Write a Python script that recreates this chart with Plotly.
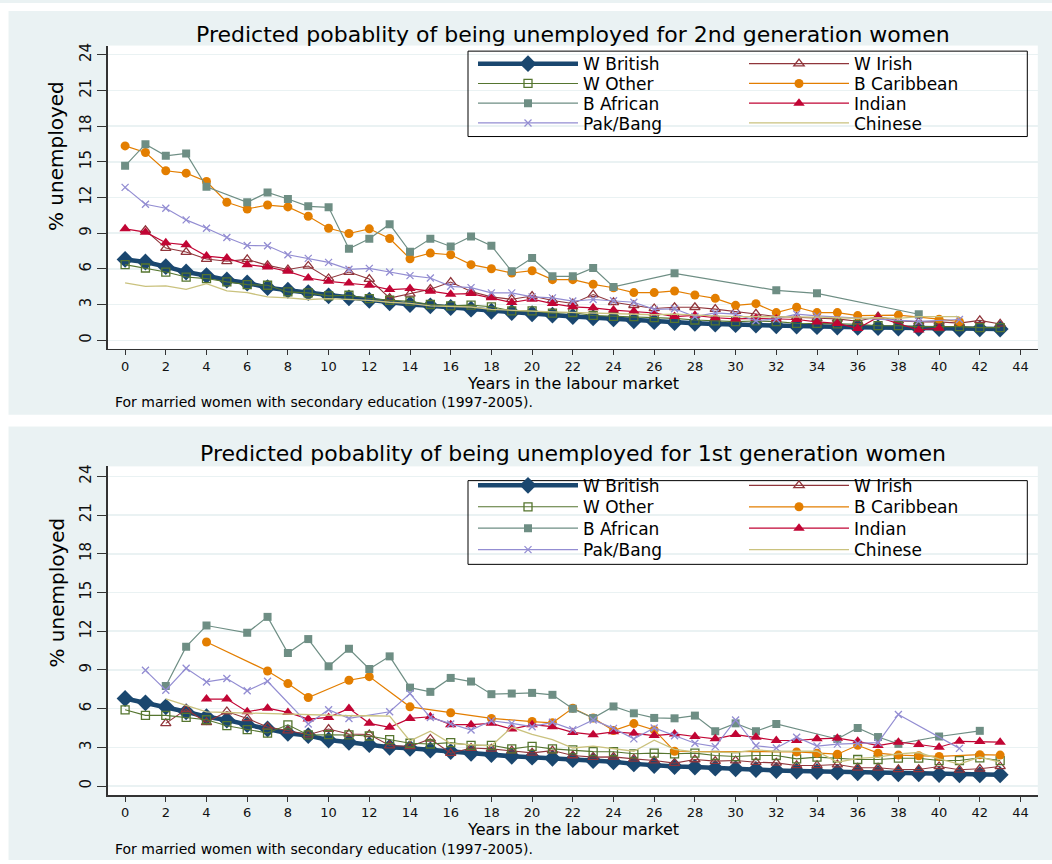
import plotly.graph_objects as go

# ---------------- data ----------------
years = list(range(44))
series_names = ["W British", "W Irish", "W Other", "B Caribbean",
                "B African", "Indian", "Pak/Bang", "Chinese"]
xticks = list(range(0, 45, 2))
yticks = list(range(0, 25, 3))

title_2nd = "Predicted pobablity of being unemployed for 2nd generation women"
title_1st = "Predicted pobablity of being unemployed for 1st generation women"
x_title = "Years in the labour market"
y_title = "% unemployed"
note_text = "For married women with secondary education (1997-2005)."

N = None
# 2nd generation (top panel)
wb2 = [6.8, 6.58, 6.19, 5.74, 5.44, 5.07, 4.82, 4.43, 4.21, 4.01, 3.74, 3.57, 3.37, 3.15, 3.01, 2.9, 2.76, 2.62, 2.45, 2.34,
       2.23, 2.12, 2.0, 1.9, 1.82, 1.65, 1.57, 1.49, 1.43, 1.37, 1.32, 1.29, 1.23, 1.21, 1.15, 1.12, 1.09, 1.07, 1.04, 1.01,
       1.0, 0.95, 0.98, 0.95]
wi2 = [N, 9.25, 7.75, 7.42, 6.83, 6.64, 6.8, 6.3, 5.95, 6.25, 5.2, 5.74, 5.15, 3.55, 3.9, 4.3, 4.9, 4.1, 3.65, 3.45,
       3.72, 3.35, 3.1, 3.85, 3.2, 2.95, 2.68, 2.78, 2.78, 2.62, 2.45, 2.22, 2.0, 1.95, 1.85, 1.8, 1.6, 2.0, 1.65, 1.55,
       1.55, 1.45, 1.68, 1.38]
wo2 = [6.36, 6.08, 5.74, 5.32, 5.19, 4.91, 4.68, 4.63, 4.07, 3.99, 3.74, 3.79, 3.51, 3.37, 3.29, 3.01, 2.9, 2.96, 2.82, 2.48,
       2.48, 2.29, 2.34, 2.09, 2.02, 1.99, 1.91, 1.85, 1.71, 1.63, 1.57, 1.63, 1.57, 1.43, 1.43, 1.38, 1.35, 1.23, 1.23, 1.15,
       1.15, 1.15, 1.07, 1.07]
bc2 = [16.34, 15.78, 14.25, 14.05, 13.35, 11.6, 11.04, 11.37, 11.21, 10.43, 9.42, 8.98, 9.37, 8.56, 6.86, 7.33, 7.19, 6.36, 6.02, 5.66,
       5.85, 5.1, 5.1, 4.71, 4.42, 4.01, 4.01, 4.15, 3.81, 3.53, 2.94, 3.08, 2.33, 2.78, 2.33, 2.33, 2.08, N, 2.12, N,
       1.78, 1.57, N, N]
ba2 = [14.66, 16.48, 15.5, 15.7, 12.9, N, 11.6, 12.43, 11.88, 11.26, 11.18, 7.69, 8.53, 9.76, 7.44, 8.53, 7.89, 8.73, 7.95, 5.8,
       6.91, 5.38, 5.38, 6.08, 4.49, N, N, 5.63, N, N, N, N, 4.2, N, 3.95, N, N, N, N, 2.19,
       N, N, N, N]
in2 = [9.37, 9.09, 8.2, 8.03, 7.08, 6.91, 6.36, 6.16, 5.8, 5.24, 4.96, 4.82, 4.63, 4.27, 4.35, 4.13, 3.88, 3.93, 3.57, 3.18,
       3.46, 3.09, 2.82, 2.73, 2.54, 2.45, 2.3, 2.0, 2.1, 1.9, 1.8, 1.85, 1.8, 1.75, 1.55, 1.42, 1.0, 1.95, N, 0.87,
       1.02, N, N, N]
pb2 = [12.85, 11.43, 11.1, 10.12, 9.42, 8.64, 7.97, 7.95, 7.19, 6.89, 6.55, 5.97, 6.05, 5.74, 5.44, 5.24, 4.54, 4.43, 3.99, 3.99,
       3.65, 3.57, 3.3, 3.43, 3.33, 3.2, 2.6, 2.65, 2.0, 2.3, 2.2, 1.65, 1.8, 2.2, 2.05, N, N, N, N, 1.6,
       N, 1.75, N, N]
ch2 = [4.82, 4.54, 4.57, 4.29, 4.77, 4.15, 4.01, 3.65, 3.57, 3.43, 3.51, 3.43, 3.35, 3.2, 3.1, 2.9, 2.85, 2.8, 2.6, 2.5,
       2.45, 2.4, 2.35, 2.3, 2.25, 2.2, 2.15, 2.2, 2.1, 2.05, 2.0, 2.0, 1.95, 2.0, 1.95, 1.9, 1.85, 1.9, 1.85, 2.0,
       2.0, 2.0, N, N]

# 1st generation (bottom panel)
wb1 = [6.79, 6.45, 6.14, 5.76, 5.37, 5.12, 4.76, 4.42, 4.09, 3.91, 3.57, 3.39, 3.21, 3.01, 2.93, 2.8, 2.67, 2.54, 2.44, 2.31,
       2.24, 2.16, 2.06, 1.98, 1.88, 1.72, 1.6, 1.52, 1.47, 1.39, 1.34, 1.29, 1.21, 1.16, 1.13, 1.08, 1.03, 1.0, 0.95, 0.95,
       0.9, 0.88, 0.88, 0.88]
wi1 = [N, N, 4.86, 5.94, 4.94, 5.78, 5.24, 4.58, 4.3, 3.98, 4.42, 4.04, 4.0, 3.14, 3.07, 3.65, 2.55, 2.95, 2.88, 2.75,
       2.57, 2.75, 2.37, 2.24, 2.26, 2.11, 1.98, 1.78, 2.06, 1.93, 1.98, 1.85, 1.8, 1.6, 1.6, 1.67, 1.42, 1.42, 1.29, 1.29,
       1.52, 1.26, 1.34, 1.52]
wo1 = [5.91, 5.48, 5.48, 5.32, 5.14, 4.68, 4.37, 4.11, 4.75, 3.96, 3.98, 3.96, 3.88, 3.6, 3.32, 3.26, 3.37, 3.16, 3.16, 2.88,
       3.08, 2.88, 2.8, 2.67, 2.66, 2.5, 2.55, 2.5, 2.55, 2.37, 2.29, 2.37, 2.37, 2.11, 2.24, 2.16, 2.06, 2.06, 2.16, 2.16,
       1.98, 1.98, 2.19, 1.98]
bc1 = [N, N, N, N, 11.16, N, N, 8.92, 7.94, 6.86, N, 8.2, 8.48, N, 6.14, N, 5.68, N, 5.24, N,
       5.0, 4.9, 6.04, 5.27, 4.3, 4.84, 4.35, 2.7, N, N, N, N, N, 2.65, 2.55, 2.47, 3.16, 2.55, 2.4, 2.35,
       2.3, N, 2.43, 2.4]
ba1 = [N, N, 7.76, 10.8, 12.44, N, 11.88, 13.11, 10.31, 11.39, 9.28, 10.64, 9.07, 10.05, 7.63, 7.3, 8.38, 8.1, 7.12, 7.17,
       7.22, 7.07, 5.99, 5.27, 6.17, 5.64, 5.28, 5.25, 5.46, 4.25, 4.86, 4.25, 4.81, N, N, 3.65, 4.5, 3.8, 3.27, N,
       3.84, N, 4.28, N]
in1 = [N, N, N, N, 6.74, 6.74, 5.76, 6.04, 5.71, 5.19, 5.32, 6.02, 4.86, 4.55, 5.24, 5.37, 4.76, 4.76, 4.86, 4.42,
       4.76, 4.6, 4.16, 3.98, 4.2, 4.09, 3.91, 4.04, 3.84, 3.66, 3.99, 3.78, 3.53, 3.53, 3.66, 3.71, 3.47, 3.14, 3.4, 3.22,
       3.01, 3.47, 3.45, 3.4]
pb1 = [N, 8.97, 7.43, 9.13, 8.07, 8.33, 7.38, 8.12, N, 4.81, 5.91, 5.24, N, 5.76, 7.17, 5.32, 4.81, 4.34, 5.06, 4.86,
       4.6, 4.94, 4.37, 5.12, 4.47, 3.66, 4.5, 3.9, 3.32, 3.06, 5.12, 3.12, 2.95, 3.78, 3.1, 3.25, 3.3, 3.36, 5.55, N,
       N, 2.92, N, N]
ch1 = [N, N, 6.75, 6.25, 5.75, 5.7, 5.65, 5.6, 5.55, 5.5, 5.5, 5.45, 5.45, 5.42, 3.5, 4.25, 3.3, 3.2, 3.12, 4.55,
       4.0, 3.6, 2.95, 3.1, 2.9, 2.7, 3.55, 2.85, 2.65, 2.6, 2.6, 2.8, 2.7, 2.7, 2.7, 1.85, 2.15, 2.25, 2.5, 2.6,
       2.1, 1.7, 2.25, 1.85]

gen2 = [wb2, wi2, wo2, bc2, ba2, in2, pb2, ch2]
gen1 = [wb1, wi1, wo1, bc1, ba1, in1, pb1, ch1]

# ---------------- styles ----------------
colors = ["#1a476f", "#90353b", "#55752f", "#e37e00", "#6e8e84", "#c10534", "#938dd2", "#cac27e"]
symbols = ["diamond", "triangle-up-open", "square-open", "circle", "square", "triangle-up", "x-thin-open", None]
msizes = [13, 9, 8, 9, 8, 10, 7, 0]
lwidths = [4.5, 1.1, 1.1, 1.2, 1.2, 1.2, 1.2, 1.3]

W, H = 1052, 864
FONT = "DejaVu Sans"
PANEL_BG = "#eaf2f3"


def px(v):
    return v / W


def py(v):
    return 1 - v / H


fig = go.Figure()
panels = [(gen2, "x", "y", 1), (gen1, "x2", "y2", 5)]
for data, xa, ya, lg0 in panels:
    for i, name in enumerate(series_names):
        lid = lg0 + i // 2
        lg = "legend" if lid == 1 else "legend%d" % lid
        sym = symbols[i]
        fig.add_trace(go.Scatter(
            x=years, y=data[i], name=name, connectgaps=True,
            mode="lines+markers" if sym else "lines",
            line=dict(color=colors[i], width=lwidths[i]),
            marker=dict(symbol=sym or "circle", size=msizes[i], color=colors[i],
                        line=dict(color=colors[i], width=1.3 if (sym and ("open" in sym)) else 0)),
            xaxis=xa, yaxis=ya, legend=lg, hoverinfo="skip"))

# axes
xdom = [px(107.5), px(1037.8)]
xrng = [-0.865, 44.85]
yrng = [-0.71, 24.77]
axis_common_x = dict(range=xrng, tickmode="array", tickvals=xticks, ticks="outside", ticklen=5,
                     tickcolor="#333", tickwidth=1, showline=True, linecolor="#333", linewidth=1.3,
                     showgrid=False, zeroline=False, tickfont=dict(family=FONT, size=13, color="#111"),
                     fixedrange=True, domain=xdom)
axis_common_y = dict(range=yrng, tickmode="array", tickvals=yticks, ticks="outside", ticklen=9,
                     tickcolor="#333", tickwidth=1, showline=True, linecolor="#333", linewidth=1.3,
                     showgrid=True, gridcolor=PANEL_BG, gridwidth=1.5, zeroline=False, tickangle=-90,
                     tickfont=dict(family=FONT, size=15, color="#111"), fixedrange=True)

layout = dict(
    width=W, height=H, margin=dict(l=0, r=0, t=0, b=0), autosize=False,
    paper_bgcolor=PANEL_BG, plot_bgcolor="white",
    font=dict(family=FONT, color="black"),
    xaxis=dict(axis_common_x, anchor="y"),
    yaxis=dict(axis_common_y, anchor="x", domain=[py(347), py(42.7)]),
    xaxis2=dict(axis_common_x, anchor="y2"),
    yaxis2=dict(axis_common_y, anchor="x2", domain=[py(795), py(465)]),
)

# legends: one row (two entries) per legend, four rows per panel
rows = [61.3, 81.2, 101.0, 120.8, 484.5, 506.0, 527.5, 549.0]
for k, yc in enumerate(rows):
    key = "legend" if k == 0 else "legend%d" % (k + 1)
    layout[key] = dict(orientation="h", x=px(473), xanchor="left", y=py(yc), yanchor="middle",
                       entrywidth=156, entrywidthmode="pixels", itemwidth=100,
                       font=dict(family=FONT, size=17, color="black"),
                       bgcolor="rgba(0,0,0,0)", borderwidth=0, tracegroupgap=0,
                       itemclick=False, itemdoubleclick=False)
fig.update_layout(**layout)

shapes = []
# white page areas around / between the two panels
for (x0, y0, x1, y1) in [(0, 0, W, 8), (0, 413.3, W, 425), (0, 0, 8.5, H), (0, 860, W, H)]:
    shapes.append(dict(type="rect", xref="paper", yref="paper", x0=px(x0), x1=px(x1), y0=py(y1), y1=py(y0),
                       fillcolor="white", line=dict(width=0), layer="below"))
# legend frames
for (y0, y1) in [(48.3, 134.0), (479.3, 563.3)]:
    shapes.append(dict(type="rect", xref="paper", yref="paper", x0=px(468), x1=px(1027.3), y0=py(y1), y1=py(y0),
                       fillcolor="rgba(0,0,0,0)", line=dict(color="black", width=1), layer="above"))

annotations = []
for t, yc, xtc, nc, yc_ytitle in [(title_2nd, 31.5, 381.5, 400.5, 154),
                                   (title_1st, 452.5, 829.5, 848.5, 592)]:
    annotations.append(dict(text=t, x=px(573), y=py(yc), xref="paper", yref="paper", showarrow=False,
                            xanchor="center", yanchor="middle", font=dict(family=FONT, size=22, color="black")))
    annotations.append(dict(text=x_title, x=px(573), y=py(xtc), xref="paper", yref="paper", showarrow=False,
                            xanchor="center", yanchor="middle", font=dict(family=FONT, size=16, color="black")))
    annotations.append(dict(text=note_text, x=px(113), y=py(nc), xref="paper", yref="paper", showarrow=False,
                            xanchor="left", yanchor="middle", font=dict(family=FONT, size=14, color="black")))
    annotations.append(dict(text=y_title, x=px(56.6), y=py(yc_ytitle), xref="paper", yref="paper",
                            showarrow=False, textangle=-90, xanchor="center", yanchor="middle",
                            font=dict(family=FONT, size=20, color="black")))

fig.update_layout(shapes=shapes, annotations=annotations, hovermode=False)
fig.write_html("out.html", config={"displayModeBar": False, "staticPlot": True})
